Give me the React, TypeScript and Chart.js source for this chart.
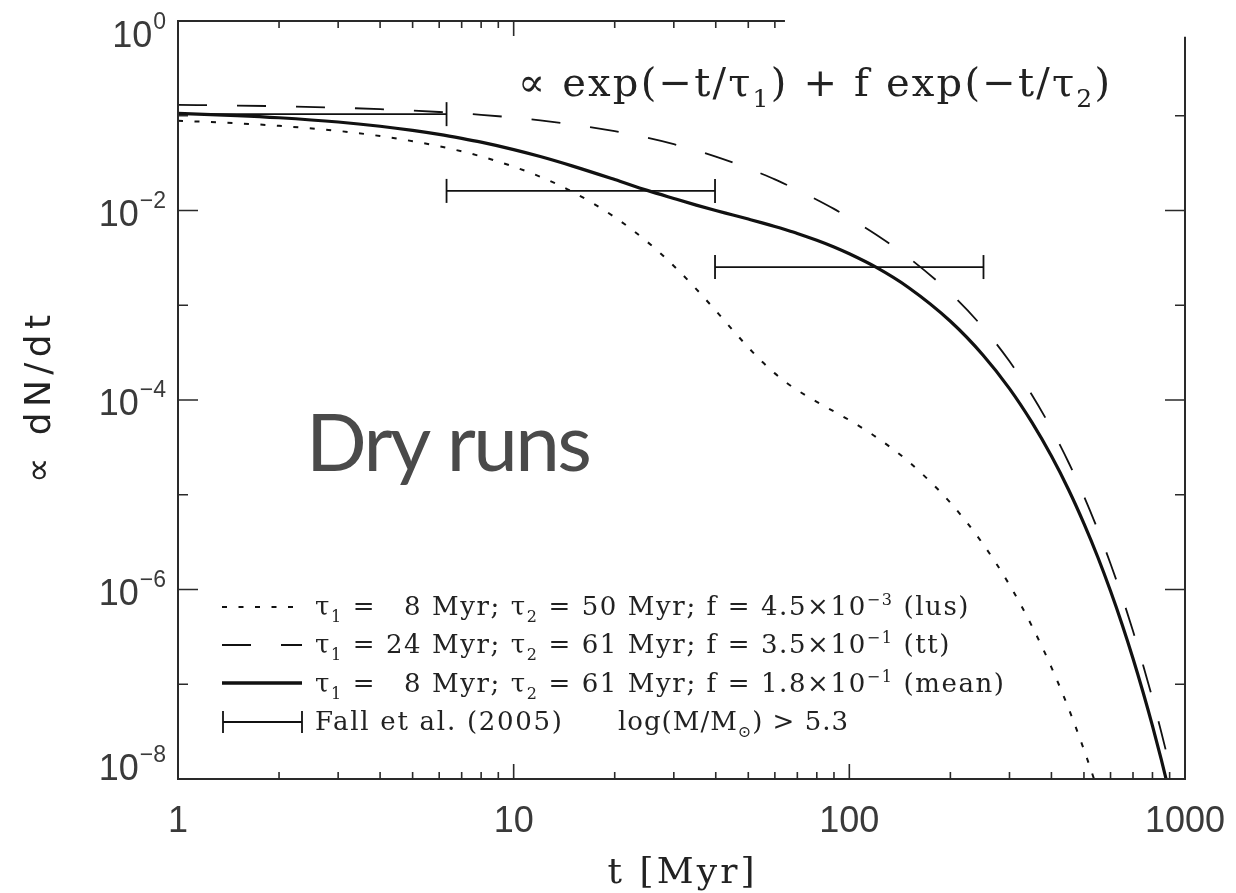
import React, { useEffect, useRef } from 'react';
import { Chart, registerables } from 'chart.js';

Chart.register(...registerables);

// ---- data ----
const timeMyr = [1, 1.5, 2, 3, 4, 5, 6, 7, 8, 10, 12, 15, 20, 25, 30, 35, 40, 45, 50, 55, 60, 65, 70, 80, 90, 100, 120, 150, 200, 250, 300, 350, 400, 450, 500, 550, 600, 650, 700, 750, 800, 850, 900, 950, 1000];

// tau1 = 8, tau2 = 61, f = 0.18 (mean) - solid
const meanRate = [0.106, 0.1005, 0.0953, 0.0859, 0.0775, 0.0701, 0.0636, 0.0577, 0.0526, 0.0439, 0.0371, 0.0294, 0.0212, 0.0163, 0.0134, 0.0114, 0.01, 0.00897, 0.00812, 0.00741, 0.00679, 0.00623, 0.00573, 0.00485, 0.00412, 0.00349, 0.00252, 0.00154, 6.78e-4, 2.99e-4, 1.32e-4, 5.8e-5, 2.56e-5, 1.13e-5, 4.96e-6, 2.19e-6, 9.63e-7, 4.25e-7, 1.87e-7, 8.24e-8, 3.64e-8, 1.6e-8, 7.04e-9, 3.1e-9, 1.37e-9];

// tau1 = 24, tau2 = 61, f = 0.35 (tt) - dashed
const ttRate = [0.1304, 0.1281, 0.1259, 0.1216, 0.1174, 0.1134, 0.1096, 0.1059, 0.1024, 0.0956, 0.0894, 0.0809, 0.0687, 0.0585, 0.0501, 0.043, 0.0371, 0.0321, 0.0279, 0.0243, 0.0213, 0.0187, 0.0165, 0.013, 0.0104, 0.00834, 0.00557, 0.00319, 0.00134, 5.84e-4, 2.56e-4, 1.13e-4, 4.97e-5, 2.19e-5, 9.64e-6, 4.25e-6, 1.87e-6, 8.26e-7, 3.64e-7, 1.6e-7, 7.07e-8, 3.11e-8, 1.37e-8, 6.02e-9, 2.66e-9];

// tau1 = 8, tau2 = 50, f = 4.5e-3 (lus) - dotted
const lusRate = [0.0887, 0.0833, 0.0783, 0.0692, 0.0611, 0.0539, 0.0476, 0.0421, 0.0372, 0.029, 0.0227, 0.0157, 0.00851, 0.00467, 0.0026, 0.00148, 8.76e-4, 5.43e-4, 3.59e-4, 2.53e-4, 1.91e-4, 1.52e-4, 1.27e-4, 9.54e-5, 7.57e-5, 6.13e-5, 4.08e-5, 2.24e-5, 8.24e-6, 3.03e-6, 1.12e-6, 4.1e-7, 1.51e-7, 5.55e-8, 2.04e-8, 7.52e-9, 2.76e-9, 1.02e-9, null, null, null, null, null, null, null];

// Fall et al. (2005) age bins and rates
const fallBinEdges = [1, 6.31, 39.8, 251];
const fallRate = [0.104, 0.0161, 0.00253];

const xTickValues = [1, 10, 100, 1000];
const xTickLabels = ['1', '10', '100', '1000'];
const yTickExponents = [0, -1, -2, -3, -4, -5, -6, -7, -8];
const yLabelExponents = [0, -2, -4, -6, -8];
const yLabelSuper = ['0', '\u22122', '\u22124', '\u22126', '\u22128'];

// ---- text helpers ----
type Seg = { t: string; k?: 'sub' | 'sup' };

function segFont(size: number, family: string, k?: string) {
  return `${k ? Math.round(size * 0.62) : size}px ${family}`;
}

function natural(ctx: CanvasRenderingContext2D, segs: Seg[], size: number, family: string) {
  const anyCtx = ctx as any;
  if ('letterSpacing' in anyCtx) anyCtx.letterSpacing = '0px';
  let w = 0;
  let n = 0;
  const widths: number[] = [];
  for (const s of segs) {
    ctx.font = segFont(size, family, s.k);
    const sw = ctx.measureText(s.t).width;
    widths.push(sw);
    w += sw;
    n += Array.from(s.t).length;
  }
  return { w, n, widths };
}

function drawRich(
  ctx: CanvasRenderingContext2D,
  segs: Seg[],
  x: number,
  y: number,
  size: number,
  family: string,
  opts: { target?: number; ls?: number; align?: 'left' | 'center' } = {}
) {
  const anyCtx = ctx as any;
  const hasLS = 'letterSpacing' in anyCtx;
  const { w, n, widths } = natural(ctx, segs, size, family);
  let ls = 0;
  let sx = 1;
  if (opts.ls !== undefined) {
    ls = hasLS ? opts.ls : 0;
    if (!hasLS) sx = (w + opts.ls * (n - 1)) / w;
  } else if (opts.target !== undefined) {
    if (hasLS) ls = (opts.target - w) / Math.max(1, n - 1);
    else sx = opts.target / w;
  }
  const total = hasLS ? w + ls * (n - 1) : w * sx;
  const start = opts.align === 'center' ? x - total / 2 : x;
  ctx.save();
  ctx.translate(start, y);
  ctx.scale(sx, 1);
  ctx.textAlign = 'left';
  ctx.textBaseline = 'alphabetic';
  let cx = 0;
  segs.forEach((s, i) => {
    ctx.font = segFont(size, family, s.k);
    if (hasLS) anyCtx.letterSpacing = `${ls}px`;
    const dy = s.k === 'sub' ? size * 0.27 : s.k === 'sup' ? -size * 0.4 : 0;
    ctx.fillText(s.t, cx, dy);
    cx += widths[i] + ls * Array.from(s.t).length;
  });
  if (hasLS) anyCtx.letterSpacing = '0px';
  ctx.restore();
  return ls;
}

const SERIF = '"DejaVu Serif", "Liberation Serif", serif';
const SANS = '"Liberation Sans", Arial, sans-serif';

const legendRows: Seg[][] = [
  [{ t: '\u03c4' }, { t: '1', k: 'sub' }, { t: ' = \u20078 Myr; ' }, { t: '\u03c4' }, { t: '2', k: 'sub' }, { t: ' = 50 Myr; f = 4.5\u00d710' }, { t: '\u22123', k: 'sup' }, { t: ' (lus)' }],
  [{ t: '\u03c4' }, { t: '1', k: 'sub' }, { t: ' = 24 Myr; ' }, { t: '\u03c4' }, { t: '2', k: 'sub' }, { t: ' = 61 Myr; f = 3.5\u00d710' }, { t: '\u22121', k: 'sup' }, { t: ' (tt)' }],
  [{ t: '\u03c4' }, { t: '1', k: 'sub' }, { t: ' = \u20078 Myr; ' }, { t: '\u03c4' }, { t: '2', k: 'sub' }, { t: ' = 61 Myr; f = 1.8\u00d710' }, { t: '\u22121', k: 'sup' }, { t: ' (mean)' }],
];

const decorPlugin = {
  id: 'decor',
  afterDraw(chart: any) {
    const { ctx, chartArea: a, scales } = chart;
    const xs = scales.x;
    const ys = scales.y;
    const L = a.left, R = a.right, T = a.top, B = a.bottom;
    const topEnd = xs.getPixelForValue(64.3);
    const rightStart = ys.getPixelForValue(0.68);
    ctx.save();
    // frame
    ctx.strokeStyle = '#2a2a2a';
    ctx.lineWidth = 2;
    ctx.beginPath();
    ctx.moveTo(topEnd, T); ctx.lineTo(L, T); ctx.lineTo(L, B); ctx.lineTo(R, B); ctx.lineTo(R, rightStart);
    ctx.stroke();
    // ticks
    ctx.lineWidth = 1.6;
    ctx.beginPath();
    for (let d = 1; d <= 1000; d *= 10) {
      for (let m = 1; m <= 9; m++) {
        const v = d * m;
        if (v > 1000) break;
        const px = xs.getPixelForValue(v);
        const len = m === 1 ? 15 : 7;
        ctx.moveTo(px, B); ctx.lineTo(px, B - len);
        if (px <= topEnd - 2) { ctx.moveTo(px, T); ctx.lineTo(px, T + len); }
      }
    }
    for (const e of yTickExponents) {
      const py = ys.getPixelForValue(Math.pow(10, e));
      const len = e % 2 === 0 ? 20 : 10;
      ctx.moveTo(L, py); ctx.lineTo(L + len, py);
      if (py >= rightStart + 2) { ctx.moveTo(R, py); ctx.lineTo(R - len, py); }
    }
    ctx.stroke();

    // y tick labels with superscripts
    ctx.fillStyle = '#3a3a3a';
    ctx.textBaseline = 'alphabetic';
    ctx.textAlign = 'right';
    yLabelExponents.forEach((e, i) => {
      const py = ys.getPixelForValue(Math.pow(10, e));
      const shift = e === 0 ? 11 : e === -8 ? -14 : 0;
      const rightX = L - 12;
      ctx.font = `23px ${SANS}`;
      const sup = yLabelSuper[i];
      const sw = ctx.measureText(sup).width;
      ctx.fillText(sup, rightX, py - 3 + shift);
      ctx.font = `36px ${SANS}`;
      ctx.fillText('10', rightX - sw - 1, py + 15 + shift);
    });

    // axis titles
    ctx.fillStyle = '#222';
    drawRich(ctx, [{ t: 't [Myr]' }], 681, 883, 36, SERIF, { target: 147, align: 'center' });
    ctx.save();
    ctx.translate(50, 399);
    ctx.rotate(-Math.PI / 2);
    drawRich(ctx, [{ t: '\u221d dN/dt' }], 0, 0, 36, '"DejaVu Sans", sans-serif', { target: 168, align: 'center' });
    ctx.restore();

    // formula
    drawRich(ctx, [
      { t: '\u221d exp(\u2212t/\u03c4' }, { t: '1', k: 'sub' }, { t: ') + f exp(\u2212t/\u03c4' }, { t: '2', k: 'sub' }, { t: ')' },
    ], 518, 96, 40, SERIF, { target: 592 });

    // legend
    const rowBase = [615, 653, 692];
    const lineY = [607, 645, 683];
    const ls = drawRich(ctx, legendRows[2], 315, rowBase[2], 26, SERIF, { target: 689 });
    drawRich(ctx, legendRows[0], 315, rowBase[0], 26, SERIF, { ls });
    drawRich(ctx, legendRows[1], 315, rowBase[1], 26, SERIF, { ls });
    drawRich(ctx, [{ t: 'Fall et al. (2005)' }], 315, 730, 26, SERIF, { target: 247 });
    drawRich(ctx, [{ t: 'log(M/M' }, { t: '\u2299', k: 'sub' }, { t: ') > 5.3' }], 618, 730, 26, SERIF, { target: 230 });

    ctx.strokeStyle = '#111';
    // dotted sample
    ctx.lineWidth = 2;
    ctx.setLineDash([5, 11.5]);
    ctx.beginPath(); ctx.moveTo(222, lineY[0]); ctx.lineTo(300, lineY[0]); ctx.stroke();
    // dashed sample
    ctx.lineWidth = 1.8;
    ctx.setLineDash([29, 30]);
    ctx.beginPath(); ctx.moveTo(222, lineY[1]); ctx.lineTo(302, lineY[1]); ctx.stroke();
    // solid sample
    ctx.setLineDash([]);
    ctx.lineWidth = 3.4;
    ctx.beginPath(); ctx.moveTo(222, lineY[2]); ctx.lineTo(302, lineY[2]); ctx.stroke();
    // error bar sample
    ctx.lineWidth = 1.8;
    ctx.beginPath();
    ctx.moveTo(223, 722); ctx.lineTo(302, 722);
    ctx.moveTo(223, 711); ctx.lineTo(223, 733);
    ctx.moveTo(302, 711); ctx.lineTo(302, 733);
    ctx.stroke();

    // "Dry runs"
    ctx.fillStyle = '#4a4a4a';
    drawRich(ctx, [{ t: 'Dry runs' }], 306, 471, 80, 'Lato, "Open Sans", sans-serif', { target: 286 });
    ctx.restore();
  },
};

function series(values: (number | null)[]) {
  const out: { x: number; y: number }[] = [];
  timeMyr.forEach((t, i) => {
    const v = values[i];
    if (v !== null && v !== undefined) out.push({ x: t, y: v });
  });
  return out;
}

export default function App() {
  const ref = useRef<HTMLCanvasElement | null>(null);
  useEffect(() => {
    if (!ref.current) return;
    const curve = (label: string, values: (number | null)[], width: number, dash: number[]) => ({
      label,
      data: series(values),
      borderColor: '#111',
      borderWidth: width,
      borderDash: dash,
      pointRadius: 0,
      pointHoverRadius: 0,
      fill: false,
      cubicInterpolationMode: 'monotone' as const,
    });
    const bars = fallRate.map((r, i) => ({
      label: `Fall ${i}`,
      data: [{ x: fallBinEdges[i], y: r }, { x: fallBinEdges[i + 1], y: r }],
      borderColor: '#111',
      borderWidth: 1.8,
      pointStyle: 'line' as const,
      rotation: 90,
      pointRadius: 12,
      pointHoverRadius: 12,
      pointBorderWidth: 1.8,
      pointBorderColor: '#111',
      fill: false,
    }));
    const chart = new Chart(ref.current, {
      type: 'line',
      data: {
        datasets: [
          curve('lus', lusRate, 2, [5, 11.5]),
          curve('tt', ttRate, 1.8, [29, 30]),
          curve('mean', meanRate, 3.2, []),
          ...bars,
        ] as any,
      },
      options: {
        responsive: false,
        animation: false,
        devicePixelRatio: 1,
        events: [],
        layout: { padding: { left: 178, right: 51, top: 21, bottom: 0 } },
        plugins: { legend: { display: false }, tooltip: { enabled: false }, title: { display: false } },
        scales: {
          x: {
            type: 'logarithmic',
            min: 1,
            max: 1000,
            position: 'bottom',
            grid: { display: false, drawTicks: false, tickLength: 0 },
            border: { display: false },
            ticks: {
              color: '#3a3a3a',
              font: { family: 'Liberation Sans', size: 36 },
              padding: 21,
              autoSkip: false,
              maxRotation: 0,
              callback: (v: any) => {
                const i = xTickValues.indexOf(Number(v));
                return i >= 0 ? xTickLabels[i] : '';
              },
            },
            afterBuildTicks: (s: any) => { s.ticks = xTickValues.map((v) => ({ value: v })); },
            afterFit: (s: any) => { s.height = 114; s.paddingLeft = 0; s.paddingRight = 0; },
          },
          y: {
            type: 'logarithmic',
            min: 1e-8,
            max: 1,
            display: false,
            afterBuildTicks: (s: any) => { s.ticks = yTickExponents.map((e) => ({ value: Math.pow(10, e) })); },
          },
        },
      } as any,
      plugins: [decorPlugin],
    });
    return () => chart.destroy();
  }, []);
  return (
    <canvas
      ref={ref}
      width={1236}
      height={893}
      style={{ position: 'absolute', left: 0, top: 0, display: 'block', background: '#fff' }}
    />
  );
}
